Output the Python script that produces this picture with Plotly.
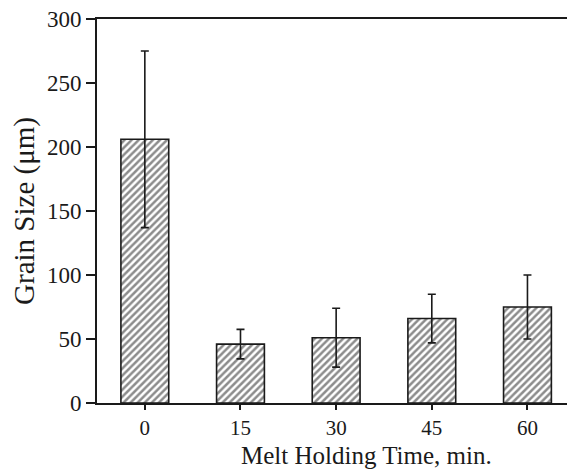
import plotly.graph_objects as go

holding_time = [0, 15, 30, 45, 60]
grain_size = [206, 46, 51, 66, 75]
grain_err = [69, 11.5, 23, 19, 25]
y_ticks = [0, 50, 100, 150, 200, 250, 300]

font_family = "Liberation Serif, Times New Roman, serif"
ink = "#1a1a1a"

fig = go.Figure()
fig.add_trace(go.Bar(
    x=holding_time,
    y=grain_size,
    width=7.5,
    marker=dict(
        color="white",
        line=dict(color=ink, width=1.6),
        pattern=dict(shape="/", fgcolor=ink, bgcolor="white", size=5, solidity=0.5),
    ),
    error_y=dict(type="data", array=grain_err, visible=True, color=ink, thickness=1.6, width=4),
))

fig.update_layout(
    width=567, height=470,
    margin=dict(l=97, r=0, t=19, b=67),
    paper_bgcolor="white", plot_bgcolor="white",
    showlegend=False,
    font=dict(family=font_family, color=ink, size=22),
    annotations=[dict(
        text="Melt Holding Time, min.",
        xref="paper", yref="paper", x=0.574, y=-0.137,
        xanchor="center", yanchor="middle", showarrow=False,
        font=dict(size=25, family=font_family, color=ink),
    )],
)
fig.update_xaxes(
    range=[-7.5, 66.2],
    tickvals=holding_time, ticktext=[str(v) for v in holding_time],
    ticks="outside", ticklen=5, tickwidth=1.5, tickcolor=ink,
    showline=True, linecolor=ink, linewidth=1.8, mirror=True,
    showgrid=False, zeroline=False,
    tickfont=dict(size=21),
)
fig.update_yaxes(
    range=[0, 300],
    tickvals=y_ticks,
    ticks="outside", ticklen=9, tickwidth=1.5, tickcolor=ink,
    showline=True, linecolor=ink, linewidth=1.8, mirror=False,
    showgrid=False, zeroline=False,
    tickfont=dict(size=23),
    title=dict(text="Grain Size (μm)", font=dict(size=29), standoff=4),
)

fig.write_html("out.html")
